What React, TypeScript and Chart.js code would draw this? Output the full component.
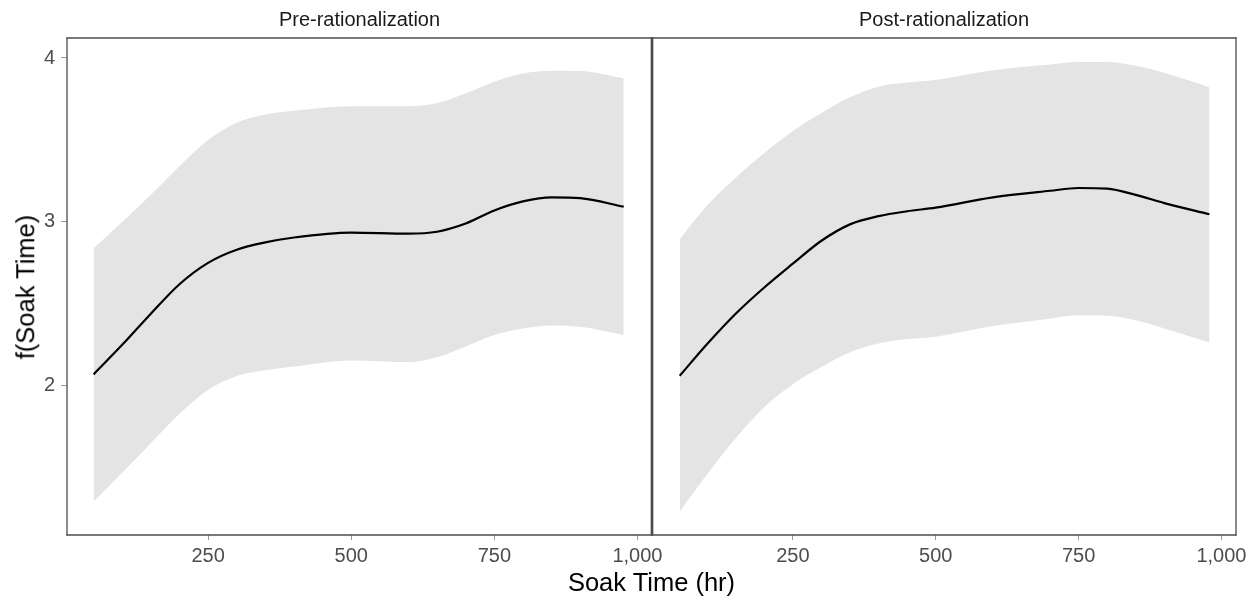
import React, { useEffect, useRef } from 'react';
import { Chart, registerables } from 'chart.js';

Chart.register(...registerables);

// ---------- data ----------
const panelTitles = ['Pre-rationalization', 'Post-rationalization'];
const xAxisTitle = 'Soak Time (hr)';
const yAxisTitle = 'f(Soak Time)';

const xTicks = [250, 500, 750, 1000];
const yTicks = [2, 3, 4];

const preX = [50, 100, 150, 200, 250, 300, 350, 400, 500, 600, 650, 700, 750, 800, 850, 900, 976];
const preFit = [2.07, 2.25, 2.44, 2.62, 2.75, 2.83, 2.875, 2.905, 2.935, 2.928, 2.94, 2.99, 3.07, 3.125, 3.15, 3.145, 3.093];
const preUpper = [2.84, 3.0, 3.165, 3.34, 3.5, 3.605, 3.655, 3.678, 3.705, 3.705, 3.725, 3.785, 3.855, 3.905, 3.922, 3.92, 3.876];
const preLower = [1.295, 1.47, 1.65, 1.83, 1.975, 2.06, 2.095, 2.118, 2.155, 2.145, 2.175, 2.24, 2.31, 2.35, 2.368, 2.36, 2.31];

const postX = [52, 100, 150, 200, 250, 300, 350, 400, 450, 500, 600, 700, 750, 800, 850, 900, 979];
const postFit = [2.061, 2.255, 2.44, 2.6, 2.745, 2.885, 2.985, 3.035, 3.065, 3.087, 3.15, 3.19, 3.207, 3.203, 3.165, 3.115, 3.047];
const postUpper = [2.895, 3.1, 3.27, 3.42, 3.555, 3.665, 3.76, 3.825, 3.85, 3.866, 3.925, 3.96, 3.975, 3.975, 3.952, 3.91, 3.821];
const postLower = [1.233, 1.46, 1.68, 1.87, 2.01, 2.115, 2.205, 2.258, 2.285, 2.3, 2.365, 2.41, 2.43, 2.428, 2.4, 2.35, 2.264];

const Y_MIN = 1.09;
const Y_MAX = 4.122;

// ---------- layout ----------
const W = 1254;
const H = 599;
const CW = 1300; // canvas width (clipped by container)
const PLOT_TOP = 38;
const PLOT_BOTTOM = 535;
const LEFT_L = 67;
const MID = 652;
const RIGHT_R = 1236;
const FONT = '"Liberation Sans", Arial, Helvetica, sans-serif';
const FILL = 'rgb(228,228,228)';
const BORDER = '#4d4d4d';
const TICK = '#9a9a9a';
const TEXT_GREY = '#4d4d4d';

const allX = preX.concat(postX);
const dMin = Math.min(...allX);
const dMax = Math.max(...allX);
const X_MIN = dMin - (dMax - dMin) * 0.05;
const X_MAX = dMax + (dMax - dMin) * 0.05;

const borderPlugin = {
  id: 'panelBorder',
  afterDraw(chart: any, _args: any, opts: any) {
    const { left, right, top, bottom } = chart.chartArea;
    const ctx = chart.ctx;
    ctx.save();
    ctx.strokeStyle = opts.color || BORDER;
    const seg = (x1: number, y1: number, x2: number, y2: number, w: number) => {
      if (!w) return;
      ctx.lineWidth = w;
      ctx.beginPath();
      ctx.moveTo(x1, y1);
      ctx.lineTo(x2, y2);
      ctx.stroke();
    };
    const e = 0.6;
    seg(left - e, top, right + e, top, opts.top);
    seg(left - e, bottom, right + e, bottom, opts.bottom);
    seg(left, top - e, left, bottom + e, opts.left);
    seg(right, top - e, right, bottom + e, opts.right);
    ctx.restore();
  },
};

function makePanel(
  canvas: HTMLCanvasElement,
  xs: number[],
  fit: number[],
  upper: number[],
  lower: number[],
  showY: boolean,
  padLeft: number,
  padRight: number,
  borders: { top: number; bottom: number; left: number; right: number }
) {
  const pts = (ys: number[]) => xs.map((x, i) => ({ x, y: ys[i] }));
  return new Chart(canvas, {
    type: 'line',
    data: {
      datasets: [
        {
          data: pts(fit),
          borderWidth: 2.2,
          borderColor: '#000000',
          fill: false,
          pointRadius: 0,
          cubicInterpolationMode: 'monotone',
          order: 0,
        },
        {
          data: pts(upper),
          borderWidth: 0,
          borderColor: 'rgba(0,0,0,0)',
          backgroundColor: FILL,
          fill: '+1',
          pointRadius: 0,
          cubicInterpolationMode: 'monotone',
          order: 1,
        },
        {
          data: pts(lower),
          borderWidth: 0,
          borderColor: 'rgba(0,0,0,0)',
          backgroundColor: FILL,
          fill: false,
          pointRadius: 0,
          cubicInterpolationMode: 'monotone',
          order: 2,
        },
      ],
    } as any,
    options: {
      animation: false,
      responsive: false,
      devicePixelRatio: 1,
      layout: { padding: { left: padLeft, right: padRight, top: PLOT_TOP, bottom: 0 } },
      plugins: {
        legend: { display: false },
        tooltip: { enabled: false },
        title: { display: false },
        panelBorder: { ...borders, color: BORDER },
      } as any,
      scales: {
        x: {
          type: 'linear',
          min: X_MIN,
          max: X_MAX,
          afterBuildTicks: (s: any) => {
            s.ticks = xTicks.map((v) => ({ value: v }));
          },
          afterFit: (s: any) => {
            s.height = H - PLOT_BOTTOM;
          },
          ticks: {
            autoSkip: false,
            maxRotation: 0,
            padding: 4,
            color: TEXT_GREY,
            font: { family: FONT, size: 20 },
            callback: (v: any) => Number(v).toLocaleString('en-US'),
          },
          grid: { drawOnChartArea: false, drawTicks: true, tickLength: 5, tickColor: TICK, tickWidth: 1 },
          border: { display: false },
        },
        y: {
          type: 'linear',
          display: showY,
          min: Y_MIN,
          max: Y_MAX,
          afterBuildTicks: (s: any) => {
            s.ticks = yTicks.map((v) => ({ value: v }));
          },
          afterFit: (s: any) => {
            s.width = showY ? LEFT_L : 0;
          },
          ticks: {
            padding: 6,
            color: TEXT_GREY,
            font: { family: FONT, size: 20 },
            callback: (v: any) => String(v),
          },
          grid: { drawOnChartArea: false, drawTicks: true, tickLength: 6, tickColor: TICK, tickWidth: 1 },
          border: { display: false },
        },
      } as any,
    },
    plugins: [borderPlugin as any],
  });
}

export default function App() {
  const leftRef = useRef<HTMLCanvasElement | null>(null);
  const rightRef = useRef<HTMLCanvasElement | null>(null);

  useEffect(() => {
    const charts: Chart[] = [];
    if (leftRef.current) {
      charts.push(
        makePanel(leftRef.current, preX, preFit, preUpper, preLower, true, 0, CW - MID, {
          top: 1.3,
          bottom: 1.3,
          left: 1.3,
          right: 2.7,
        })
      );
    }
    if (rightRef.current) {
      charts.push(
        makePanel(rightRef.current, postX, postFit, postUpper, postLower, false, MID, CW - RIGHT_R, {
          top: 1.3,
          bottom: 1.3,
          left: 0,
          right: 1.3,
        })
      );
    }
    return () => charts.forEach((c) => c.destroy());
  }, []);

  const canvasStyle: React.CSSProperties = { position: 'absolute', left: 0, top: 0, width: CW, height: H };
  const stripStyle = (cx: number): React.CSSProperties => ({
    position: 'absolute',
    left: cx,
    top: 9,
    transform: 'translateX(-50%)',
    fontFamily: FONT,
    fontSize: 20,
    lineHeight: '20px',
    color: '#1a1a1a',
    whiteSpace: 'nowrap',
  });

  return (
    <div
      style={{
        position: 'absolute',
        left: 0,
        top: 0,
        width: W,
        height: H,
        overflow: 'hidden',
        background: '#ffffff',
      }}
    >
      <canvas ref={leftRef} width={CW} height={H} style={canvasStyle} />
      <canvas ref={rightRef} width={CW} height={H} style={canvasStyle} />
      <div style={stripStyle((LEFT_L + MID) / 2)}>{panelTitles[0]}</div>
      <div style={stripStyle((MID + RIGHT_R) / 2)}>{panelTitles[1]}</div>
      <div
        style={{
          position: 'absolute',
          left: (LEFT_L + RIGHT_R) / 2,
          top: 570,
          transform: 'translateX(-50%)',
          fontFamily: FONT,
          fontSize: 25.5,
          lineHeight: '25.5px',
          color: '#000000',
          whiteSpace: 'nowrap',
        }}
      >
        {xAxisTitle}
      </div>
      <div
        style={{
          position: 'absolute',
          left: 26,
          top: (PLOT_TOP + PLOT_BOTTOM) / 2,
          transform: 'translate(-50%, -50%) rotate(-90deg)',
          fontFamily: FONT,
          fontSize: 25.5,
          lineHeight: '25.5px',
          color: '#000000',
          whiteSpace: 'nowrap',
        }}
      >
        {yAxisTitle}
      </div>
    </div>
  );
}
